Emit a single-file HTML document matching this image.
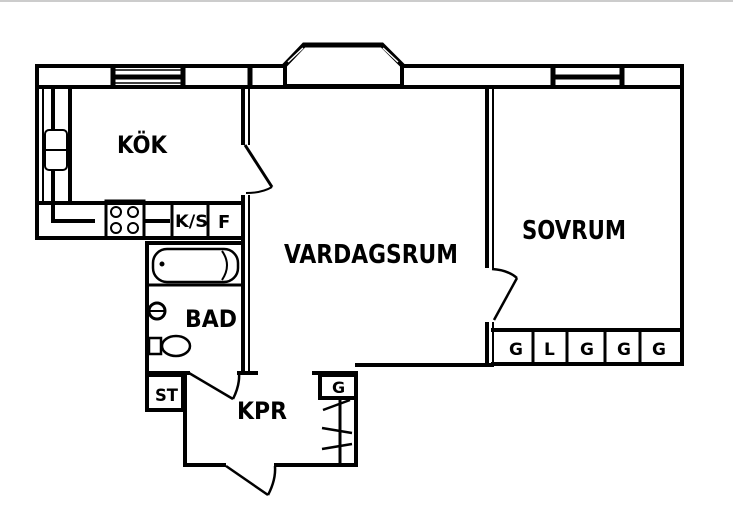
<!DOCTYPE html>
<html><head><meta charset="utf-8"><style>
html,body{margin:0;padding:0;background:#fff;}
svg{display:block}
text{font-family:"DejaVu Sans","Liberation Sans",sans-serif;font-weight:bold;fill:#000}
</style></head><body>
<svg width="733" height="520" viewBox="0 0 733 520" xmlns="http://www.w3.org/2000/svg">
<rect x="0" y="0" width="733" height="2" fill="#ccc"/>
<g fill="none" stroke="#000" stroke-width="4" stroke-linejoin="miter">
<line x1="35" y1="66" x2="287" y2="66"/>
<line x1="400" y1="66" x2="684" y2="66"/>
<line x1="35" y1="87" x2="684" y2="87"/>
<line x1="37" y1="64" x2="37" y2="89"/>
<line x1="113" y1="64" x2="113" y2="89" stroke-width="5"/>
<line x1="183" y1="64" x2="183" y2="89" stroke-width="5"/>
<line x1="250" y1="64" x2="250" y2="89" stroke-width="5"/>
<line x1="113" y1="77" x2="183" y2="77" stroke-width="5"/>
<line x1="113" y1="70" x2="183" y2="70" stroke-width="1.5"/>
<line x1="113" y1="83" x2="183" y2="83" stroke-width="1.5"/>
<line x1="285" y1="64" x2="285" y2="89"/>
<line x1="402" y1="64" x2="402" y2="89"/>
<line x1="553" y1="64" x2="553" y2="89" stroke-width="5"/>
<line x1="622" y1="64" x2="622" y2="89" stroke-width="5"/>
<line x1="553" y1="77" x2="622" y2="77" stroke-width="5"/>
<line x1="682" y1="64" x2="682" y2="366"/>
<polyline points="284,66 304,45 382,45 403,66" stroke-width="5"/>
<polyline points="288,62 303,48" stroke="#fff" stroke-width="1.5"/>
<polyline points="383,48 398,62" stroke="#fff" stroke-width="1.5"/>
<line x1="286" y1="86" x2="401" y2="86" stroke="#000"/>
<line x1="37" y1="87" x2="37" y2="238"/>
<line x1="43" y1="89" x2="43" y2="203" stroke-width="2"/>
<line x1="35" y1="238" x2="244" y2="238"/>
<line x1="37" y1="203" x2="244" y2="203"/>
<line x1="70" y1="89" x2="70" y2="203"/>
<line x1="53" y1="89" x2="53" y2="130"/>
<line x1="53" y1="170" x2="53" y2="221"/>
<line x1="51" y1="221" x2="95" y2="221"/>
<line x1="145" y1="221" x2="170" y2="221"/>
<rect x="45" y="130" width="22" height="40" rx="4" stroke-width="2"/>
<line x1="45" y1="150" x2="67" y2="150" stroke-width="2"/>
<rect x="106" y="201" width="38" height="37" stroke-width="3"/>
<circle cx="116" cy="212" r="5" stroke-width="2"/><circle cx="133" cy="212" r="5" stroke-width="2"/>
<circle cx="116" cy="228" r="5" stroke-width="2"/><circle cx="133" cy="228" r="5" stroke-width="2"/>
<line x1="172" y1="203" x2="172" y2="238" stroke-width="3"/>
<line x1="208" y1="203" x2="208" y2="238" stroke-width="3"/>
<line x1="243" y1="87" x2="243" y2="145"/>
<line x1="249" y1="89" x2="249" y2="145" stroke-width="2"/>
<line x1="245" y1="145" x2="272" y2="187" stroke-width="3"/>
<path d="M272 187 Q262 193 246 193" stroke-width="2"/>
<line x1="243" y1="195" x2="243" y2="372"/>
<line x1="249" y1="195" x2="249" y2="372" stroke-width="2"/>
<line x1="147" y1="243" x2="147" y2="372"/>
<line x1="145" y1="243" x2="243" y2="243"/>
<line x1="147" y1="285" x2="243" y2="285" stroke-width="3"/>
<rect x="153" y="249" width="85" height="33" rx="14" stroke-width="2.5"/>
<path d="M222 251 Q232 265 222 280" stroke-width="2"/>
<circle cx="162" cy="264" r="2" fill="#000" stroke-width="1"/>
<circle cx="157" cy="311" r="8" stroke-width="3"/>
<line x1="150" y1="311" x2="164" y2="311" stroke-width="2"/>
<ellipse cx="176" cy="346" rx="14" ry="10" stroke-width="2.5"/>
<rect x="149" y="338" width="12" height="16" stroke-width="2.5"/>
<line x1="145" y1="373" x2="190" y2="373"/>
<line x1="237" y1="373" x2="258" y2="373"/>
<rect x="147" y="375" width="36" height="35" stroke-width="4"/>
<line x1="185" y1="375" x2="185" y2="467"/>
<line x1="183" y1="465" x2="226" y2="465"/>
<line x1="274" y1="465" x2="358" y2="465"/>
<line x1="189" y1="373" x2="233" y2="399" stroke-width="2.5"/>
<path d="M233 399 Q240 385 239 373" stroke-width="2.5"/>
<line x1="226" y1="466" x2="268" y2="495" stroke-width="2.5"/>
<path d="M268 495 Q276 480 275 466" stroke-width="2.5"/>
<line x1="312" y1="373" x2="358" y2="373"/>
<line x1="356" y1="373" x2="356" y2="467"/>
<line x1="355" y1="365" x2="492" y2="365"/>
<rect x="320" y="375" width="36" height="23" stroke-width="4"/>
<line x1="340" y1="398" x2="340" y2="465" stroke-width="3"/>
<line x1="323" y1="410" x2="350" y2="400" stroke-width="2.5"/>
<line x1="322" y1="428" x2="352" y2="433" stroke-width="2.5"/>
<line x1="322" y1="449" x2="352" y2="444" stroke-width="2.5"/>
<line x1="487" y1="87" x2="487" y2="268"/>
<line x1="493" y1="89" x2="493" y2="268" stroke-width="2"/>
<line x1="487" y1="322" x2="487" y2="367"/>
<line x1="493" y1="322" x2="493" y2="367" stroke-width="2"/>
<path d="M492 269 Q508 270 517 278" stroke-width="2.5"/>
<line x1="517" y1="278" x2="494" y2="320" stroke-width="2.5"/>
<line x1="491" y1="330" x2="684" y2="330"/>
<line x1="491" y1="364" x2="684" y2="364"/>
<line x1="533" y1="330" x2="533" y2="364" stroke-width="3"/>
<line x1="567" y1="330" x2="567" y2="364" stroke-width="3"/>
<line x1="605" y1="330" x2="605" y2="364" stroke-width="3"/>
<line x1="640" y1="330" x2="640" y2="364" stroke-width="3"/>
</g>
<text x="117" y="153" font-size="24" textLength="50" lengthAdjust="spacingAndGlyphs">KÖK</text>
<text x="175" y="227" font-size="17" textLength="33" lengthAdjust="spacingAndGlyphs">K/S</text>
<text x="218" y="228" font-size="18">F</text>
<text x="284" y="263" font-size="26" textLength="174" lengthAdjust="spacingAndGlyphs">VARDAGSRUM</text>
<text x="522" y="239" font-size="26" textLength="104" lengthAdjust="spacingAndGlyphs">SOVRUM</text>
<text x="185" y="327" font-size="24" textLength="52" lengthAdjust="spacingAndGlyphs">BAD</text>
<text x="155" y="401" font-size="17" textLength="23" lengthAdjust="spacingAndGlyphs">ST</text>
<text x="237" y="419" font-size="24" textLength="50" lengthAdjust="spacingAndGlyphs">KPR</text>
<text x="332" y="393" font-size="16">G</text>
<text x="509" y="355" font-size="17">G</text>
<text x="544" y="355" font-size="17">L</text>
<text x="580" y="355" font-size="17">G</text>
<text x="617" y="355" font-size="17">G</text>
<text x="652" y="355" font-size="17">G</text>
</svg>
</body></html>
